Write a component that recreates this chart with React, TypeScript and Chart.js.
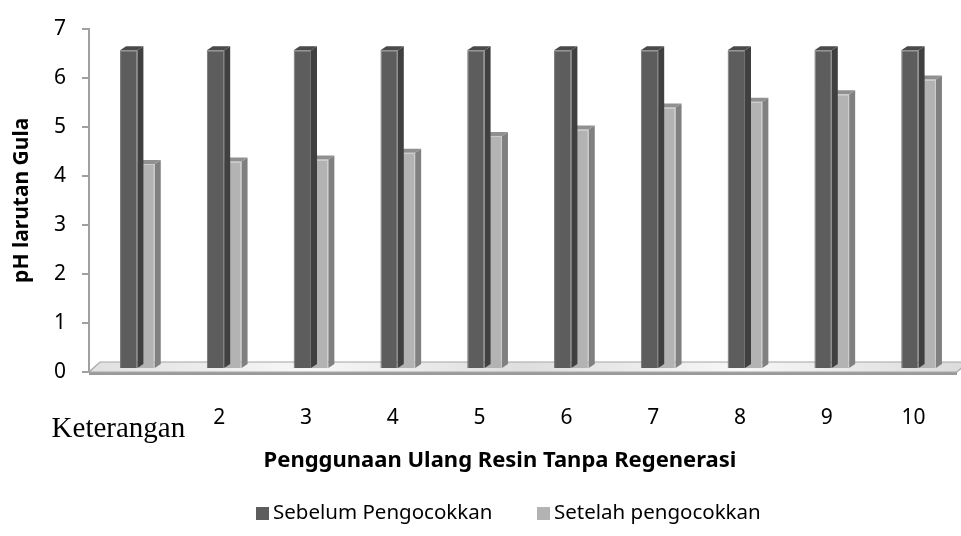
import React, { useEffect, useRef } from 'react';
import { Chart, registerables } from 'chart.js';

Chart.register(...registerables);

const categories = ['Keterangan', '2', '3', '4', '5', '6', '7', '8', '9', '10'];
const sebelumValues = [6.5, 6.5, 6.5, 6.5, 6.5, 6.5, 6.5, 6.5, 6.5, 6.5];
const setelahValues = [4.18, 4.23, 4.27, 4.41, 4.75, 4.88, 5.33, 5.45, 5.6, 5.9];
const seriesNames = ['Sebelum Pengocokkan', 'Setelah pengocokkan'];
const xTitle = 'Penggunaan Ulang Resin Tanpa Regenerasi';
const yTitle = 'pH larutan Gula';

const FRONT = ['#5d5d5d', '#b3b3b3'];
const SIDE = ['#404040', '#808080'];
const TOP = ['#4a4a4a', '#909090'];
const EDGE = ['#727272', '#cacaca'];
const DX = 6;
const DY = -4;
const SHIFT_X = 5;
const SHIFT_Y = -3;
const SANS = '"Noto Sans", "Open Sans", sans-serif';

const threeD = {
  id: 'threeD',
  beforeDatasetsDraw(chart: any) {
    const { ctx, chartArea } = chart;
    const l = chartArea.left;
    const r = chartArea.right;
    const b = chartArea.bottom;
    ctx.save();
    ctx.fillStyle = '#9a9a9a';
    ctx.fillRect(l, b, r - l, 3);
    const g = ctx.createLinearGradient(l, 0, r, 0);
    g.addColorStop(0, '#e0e0e0');
    g.addColorStop(0.25, '#f7f7f7');
    g.addColorStop(0.5, '#dedede');
    g.addColorStop(0.75, '#f7f7f7');
    g.addColorStop(1, '#dcdcdc');
    ctx.beginPath();
    ctx.moveTo(l, b);
    ctx.lineTo(r, b);
    ctx.lineTo(r + 11, b - 10);
    ctx.lineTo(l + 11, b - 10);
    ctx.closePath();
    ctx.fillStyle = g;
    ctx.fill();
    ctx.strokeStyle = '#a6a6a6';
    ctx.lineWidth = 1.2;
    ctx.stroke();
    ctx.restore();
    ctx.save();
    ctx.translate(SHIFT_X, SHIFT_Y);
  },
  afterDatasetDraw(chart: any, args: any) {
    const { ctx } = chart;
    const i = args.index;
    args.meta.data.forEach((el: any) => {
      const p = el.getProps(['x', 'y', 'base', 'width'], true);
      const left = p.x - p.width / 2;
      const right = p.x + p.width / 2;
      const top = p.y;
      const base = p.base;
      ctx.save();
      ctx.beginPath();
      ctx.moveTo(right, top);
      ctx.lineTo(right + DX, top + DY);
      ctx.lineTo(right + DX, base + DY);
      ctx.lineTo(right, base);
      ctx.closePath();
      ctx.fillStyle = SIDE[i];
      ctx.fill();
      ctx.beginPath();
      ctx.moveTo(left, top);
      ctx.lineTo(left + DX, top + DY);
      ctx.lineTo(right + DX, top + DY);
      ctx.lineTo(right, top);
      ctx.closePath();
      ctx.fillStyle = TOP[i];
      ctx.fill();
      ctx.restore();
    });
  },
  afterDatasetsDraw(chart: any) {
    chart.ctx.restore();
  },
  afterDraw(chart: any) {
    const { ctx, scales } = chart;
    ctx.save();
    const x0 = scales.x.getPixelForTick(0);
    ctx.fillStyle = '#000';
    ctx.font = '29px "Liberation Serif", "Times New Roman", serif';
    ctx.textAlign = 'center';
    ctx.textBaseline = 'alphabetic';
    ctx.fillText(categories[0], x0 - 14, 437);
    ctx.font = `bold 22px ${SANS}`;
    ctx.textBaseline = 'middle';
    ctx.fillText(xTitle, 500, 461);
    const ly = 513;
    ctx.font = `20.5px ${SANS}`;
    ctx.textAlign = 'left';
    const items = [
      { sx: 256, tx: 273 },
      { sx: 537, tx: 554 },
    ];
    items.forEach((it, k) => {
      ctx.fillStyle = FRONT[k];
      ctx.fillRect(it.sx, ly - 6, 13, 13);
      ctx.fillStyle = '#000';
      ctx.fillText(seriesNames[k], it.tx, ly);
    });
    ctx.restore();
  },
};

export default function App() {
  const ref = useRef<HTMLCanvasElement>(null);
  useEffect(() => {
    document.body.style.margin = '0';
    const chart = new Chart(ref.current as HTMLCanvasElement, {
      type: 'bar',
      data: {
        labels: categories,
        datasets: [
          {
            label: seriesNames[0],
            data: sebelumValues,
            backgroundColor: FRONT[0],
            borderColor: EDGE[0],
            borderWidth: 1,
            categoryPercentage: 0.4,
            barPercentage: 1,
            clip: false as any,
          },
          {
            label: seriesNames[1],
            data: setelahValues,
            backgroundColor: FRONT[1],
            borderColor: EDGE[1],
            borderWidth: 1,
            categoryPercentage: 0.4,
            barPercentage: 1,
            clip: false as any,
          },
        ],
      },
      options: {
        responsive: false,
        animation: false,
        layout: { padding: { left: 0, right: 4, top: 22, bottom: 0 } },
        plugins: {
          legend: { display: false },
          tooltip: { enabled: false },
        },
        scales: {
          x: {
            grid: { display: false },
            border: { display: false },
            ticks: {
              color: '#000',
              font: { family: SANS, size: 21 },
              padding: 25,
              maxRotation: 0,
              autoSkip: false,
              callback: (_v: any, i: number) => (i === 0 ? '' : categories[i]),
            },
            afterFit: (s: any) => {
              s.height = 164;
            },
          },
          y: {
            min: 0,
            max: 7,
            ticks: {
              stepSize: 1,
              color: '#000',
              font: { family: SANS, size: 21 },
              padding: 16,
            },
            grid: {
              drawOnChartArea: false,
              drawTicks: true,
              tickLength: 7,
              color: '#a0a0a0',
              lineWidth: 2,
            },
            border: { display: true, color: '#a0a0a0', width: 2 },
            title: {
              display: true,
              text: yTitle,
              color: '#000',
              font: { family: SANS, size: 21, weight: 'bold' },
              padding: { top: 9, bottom: 0 },
            },
            afterFit: (s: any) => {
              s.width = 89;
            },
          },
        },
      },
      plugins: [threeD],
    });
    return () => chart.destroy();
  }, []);
  return (
    <div style={{ width: 961, height: 536 }}>
      <canvas ref={ref} width={961} height={536} style={{ display: 'block' }} />
    </div>
  );
}
